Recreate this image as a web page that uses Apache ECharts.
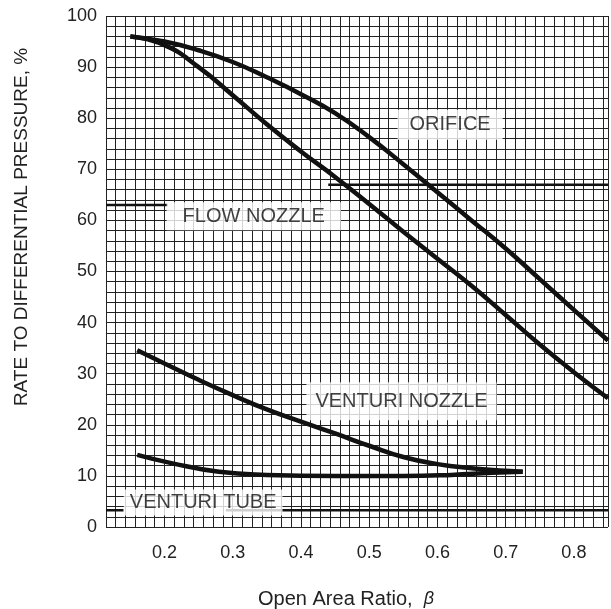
<!DOCTYPE html>
<html>
<head>
    <meta charset="utf-8">
    <title>ECharts</title>
    <script src="https://cdn.jsdelivr.net/npm/echarts@6/dist/echarts.min.js"></script>
    <style>
        html, body { margin: 0; padding: 0; background: #fff; }
    </style>
</head>
<body>
    <div id="main" style="width: 611px;height:609px;"></div>
    <script type="text/javascript">
        // values: [beta, percent]
        var orifice = [[0.15, 96], [0.2, 95], [0.25, 93.3], [0.3, 91], [0.35, 88], [0.4, 84.7],
            [0.45, 81], [0.5, 76.3], [0.55, 71], [0.6, 65.5], [0.65, 60], [0.7, 54.5],
            [0.75, 48.5], [0.8, 42.5], [0.85, 36.5]];
        var flowNozzle = [[0.15, 96], [0.2, 94.3], [0.25, 90], [0.3, 84.5], [0.35, 78.8],
            [0.4, 73.5], [0.45, 68.5], [0.5, 63.2], [0.55, 57.8], [0.6, 52.5], [0.65, 47.2],
            [0.7, 41.5], [0.75, 35.7], [0.8, 30.3], [0.85, 25.2]];
        var venturiNozzle = [[0.16, 34.6], [0.2, 32], [0.25, 28.8], [0.3, 25.8], [0.35, 23],
            [0.4, 20.6], [0.45, 18.3], [0.5, 15.9], [0.55, 13.7], [0.6, 12.3], [0.65, 11.5],
            [0.7, 11.0], [0.725, 10.8]];
        var venturiTube = [[0.16, 14.1], [0.21, 12.5], [0.28, 10.8], [0.35, 10.2], [0.45, 10.0],
            [0.55, 10.0], [0.62, 10.2], [0.68, 10.6], [0.725, 10.8]];

        // curve name labels, placed in data coordinates
        var curveLabels = ['ORIFICE', 'FLOW NOZZLE', 'VENTURI NOZZLE', 'VENTURI TUBE'];
        var labelAt = [[0.6186, 78.7], [0.3308, 60.8], [0.5474, 24.6], [0.2567, 4.8]];
        var labelPad = [[5, 12], [4, 16], [9, 9], [3, 6]];

        // heavier graph-paper rulings seen on the scan
        var heavyRules = [
            [[0.44, 67], [0.85, 67]],
            [[0.11428, 63], [0.205, 63]],
            [[0.11428, 3.3], [0.14, 3.3]],
            [[0.29, 3.3], [0.85, 3.3]]
        ];

        var xTicks = [0.2, 0.3, 0.4, 0.5, 0.6, 0.7, 0.8];
        var yTicks = [0, 10, 20, 30, 40, 50, 60, 70, 80, 90, 100];

        var FONT = '"Liberation Sans", Arial, Helvetica, sans-serif';
        var myChart = echarts.init(document.getElementById('main'));

        function near(v, list) {
            for (var i = 0; i < list.length; i++) {
                if (Math.abs(v - list[i]) < 1e-6) return list[i];
            }
            return null;
        }

        var curveStyle = { color: '#111', width: 4.5 };
        function curve(name, data) {
            return {
                name: name, type: 'line', data: data, smooth: true,
                showSymbol: false, silent: true, z: 5,
                lineStyle: curveStyle
            };
        }

        var series = [
            curve('ORIFICE', orifice),
            curve('FLOW NOZZLE', flowNozzle),
            curve('VENTURI NOZZLE', venturiNozzle),
            curve('VENTURI TUBE', venturiTube)
        ];
        heavyRules.forEach(function (seg) {
            series.push({
                type: 'line', data: seg, showSymbol: false, silent: true, z: 3,
                lineStyle: { color: '#111', width: 2.5 }
            });
        });
        series.push({
            type: 'scatter', silent: true, z: 10, symbolSize: 0,
            data: labelAt.map(function (p, i) {
                return {
                    value: p,
                    label: {
                        show: true, position: 'inside', formatter: curveLabels[i],
                        color: '#111', fontFamily: FONT, fontSize: 20,
                        backgroundColor: '#fff', padding: labelPad[i]
                    }
                };
            })
        });

        var gridLine = { show: true, lineStyle: { color: '#222', width: 1 } };

        var option = {
            animation: false,
            grid: { left: 106, right: 0, top: 16, bottom: 82 },
            xAxis: {
                type: 'value', min: 8 / 70, max: 0.85, interval: 1 / 70,
                axisLine: { show: false }, axisTick: { show: false },
                splitLine: gridLine,
                axisLabel: {
                    color: '#222', fontFamily: FONT, fontSize: 18, margin: 17,
                    formatter: function (v) {
                        var t = near(v, xTicks);
                        return t === null ? '' : t.toFixed(1);
                    }
                }
            },
            yAxis: {
                type: 'value', min: 0, max: 100, interval: 2,
                axisLine: { show: false }, axisTick: { show: false },
                splitLine: gridLine,
                axisLabel: {
                    color: '#222', fontFamily: FONT, fontSize: 18, margin: 9,
                    formatter: function (v) {
                        var t = near(v, yTicks);
                        return t === null ? '' : String(t);
                    }
                }
            },
            graphic: [
                {
                    type: 'text', x: 22, y: 227, rotation: Math.PI / 2,
                    style: {
                        text: 'RATE TO DIFFERENTIAL PRESSURE, %',
                        fill: '#222', font: '19px ' + FONT,
                        align: 'center', verticalAlign: 'middle'
                    }
                },
                {
                    type: 'text', x: 346, y: 599,
                    style: {
                        text: '{a|Open Area Ratio,  }{b|β}',
                        fill: '#222', font: '20px ' + FONT,
                        align: 'center', verticalAlign: 'middle',
                        rich: {
                            a: { fontFamily: FONT, fontSize: 20, fill: '#222' },
                            b: { fontFamily: FONT, fontSize: 18, fontStyle: 'italic', fill: '#222' }
                        }
                    }
                }
            ],
            series: series
        };

        myChart.setOption(option);
    </script>
</body>
</html>
